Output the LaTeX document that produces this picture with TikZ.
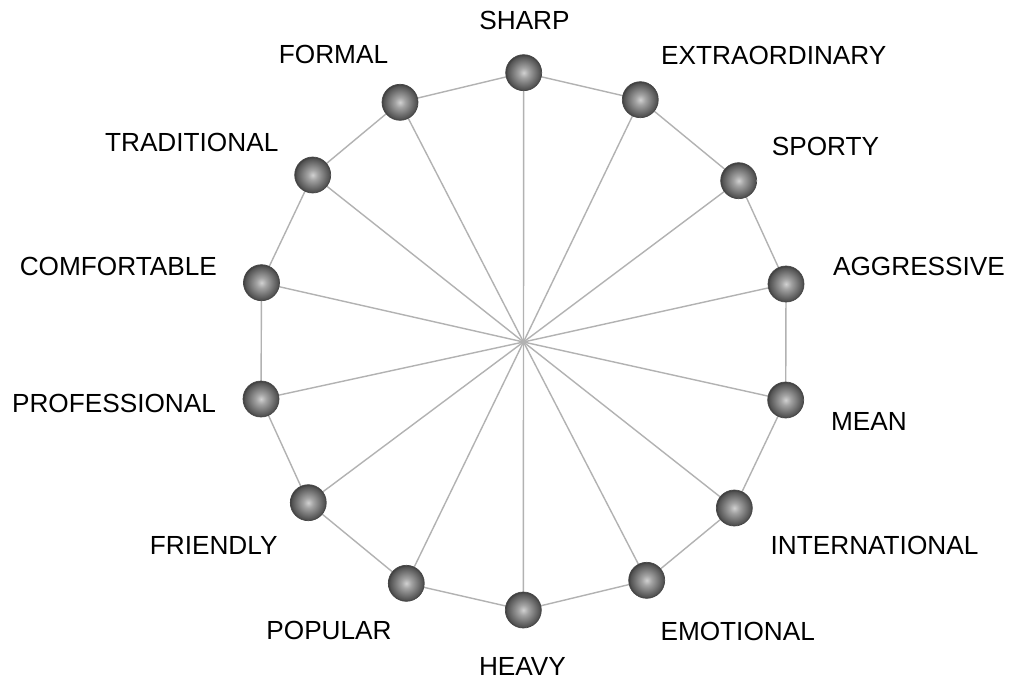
\documentclass[tikz,border=0pt]{standalone}
\usepackage{fontspec}
\setmainfont{Liberation Sans}
\pgfdeclareradialshading{greyball}{\pgfpoint{0bp}{0bp}}{%
  color(0bp)=(black!18);
  color(7bp)=(black!36);
  color(17bp)=(black!56);
  color(23bp)=(black!68);
  color(25bp)=(black!76);
  color(50bp)=(black!76)}
\tikzset{
  ball/.style={circle, minimum size=36pt, inner sep=0pt, shading=greyball, draw=black!72, line width=0.7pt},
  lbl/.style={anchor=base, inner sep=0pt, font=\fontsize{26.2}{30}\selectfont, text=black},
  edge/.style={draw=black!30, line width=1.4pt},
}
\begin{document}
\begin{tikzpicture}[x=1pt,y=-1pt]
\useasboundingbox[fill=white] (0,0) rectangle (1011,682);
\coordinate (c) at (523.5,342);
% ball positions
\coordinate (p1) at (523.7,72.7);
\coordinate (p2) at (640.3,99.7);
\coordinate (p3) at (738.7,180.7);
\coordinate (p4) at (786,284);
\coordinate (p5) at (785.7,400);
\coordinate (p6) at (734.3,508);
\coordinate (p7) at (646.7,580.3);
\coordinate (p8) at (523.3,610);
\coordinate (p9) at (406.3,583.3);
\coordinate (p10) at (308.3,502.7);
\coordinate (p11) at (261,399);
\coordinate (p12) at (261.5,282.7);
\coordinate (p13) at (312.7,175);
\coordinate (p14) at (400,102.3);
% spokes and rim
\foreach \i in {1,...,14} {
  \draw[edge] (c) -- (p\i);
}
\foreach \i/\j in {1/2,2/3,3/4,4/5,5/6,6/7,7/8,8/9,9/10,10/11,11/12,12/13,13/14,14/1} {
  \draw[edge] (p\i) -- (p\j);
}
% balls
\foreach \i in {1,...,14} {
  \node[ball] (b\i) at (p\i) {};
}
% labels
\node[lbl] (l1) at (524.5,30) {SHARP};
\node[lbl] (l2) at (773.8,64.3) {EXTRAORDINARY};
\node[lbl] (l3) at (825.5,155) {SPORTY};
\node[lbl] (l4) at (919,275) {AGGRESSIVE};
\node[lbl] (l5) at (869,430) {MEAN};
\node[lbl] (l6) at (874.5,554) {INTERNATIONAL};
\node[lbl] (l7) at (737.7,640) {EMOTIONAL};
\node[lbl] (l8) at (522.5,675) {HEAVY};
\node[lbl] (l9) at (329,639.3) {POPULAR};
\node[lbl] (l10) at (213.7,554.3) {FRIENDLY};
\node[lbl] (l11) at (114,412.7) {PROFESSIONAL};
\node[lbl] (l12) at (118.3,275) {COMFORTABLE};
\node[lbl] (l13) at (191.7,151) {TRADITIONAL};
\node[lbl] (l14) at (333.5,64) {FORMAL};
\end{tikzpicture}
\end{document}
